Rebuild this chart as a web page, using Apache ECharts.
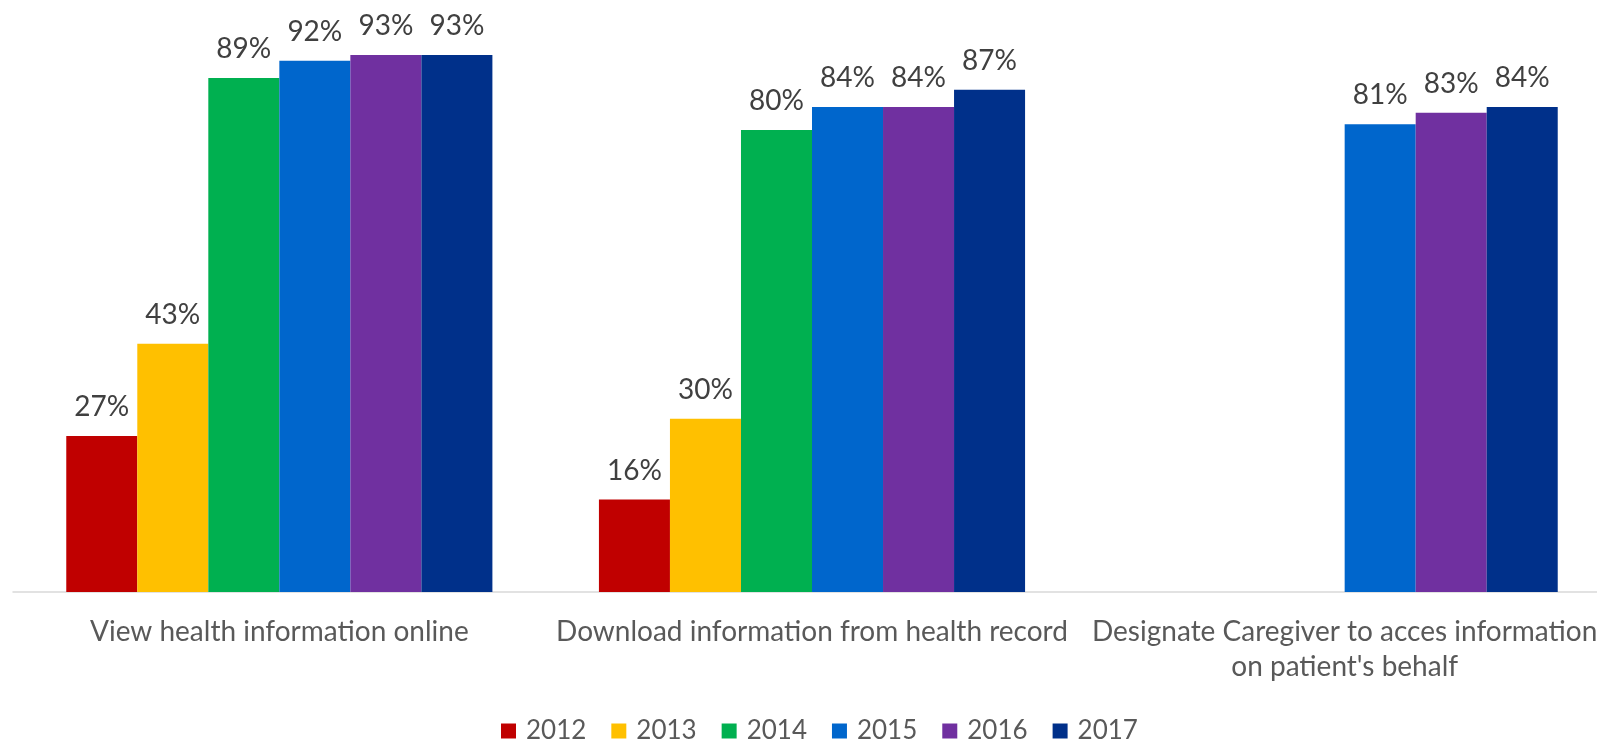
<!DOCTYPE html>
<html>
<head>
<meta charset="utf-8">
<script src="https://cdn.jsdelivr.net/npm/echarts@6/dist/echarts.min.js"></script>
<style>
  html, body { margin: 0; padding: 0; background: #ffffff; }
  #chart { width: 1597px; height: 740px; }
</style>
</head>
<body>
<div id="chart"></div>
<script>
// Patient portal capabilities by year (percent of hospitals)
var categories = [
  'View health information online',
  'Download information from health record',
  "Designate Caregiver to acces information\non patient's behalf"
];
var years = ['2012', '2013', '2014', '2015', '2016', '2017'];
var v2012 = [27, 16, null];
var v2013 = [43, 30, null];
var v2014 = [89, 80, null];
var v2015 = [92, 84, 81];
var v2016 = [93, 84, 83];
var v2017 = [93, 87, 84];
var colors = ['#C00000', '#FFC000', '#00B050', '#0066CC', '#7030A0', '#00308A'];

var seriesValues = [v2012, v2013, v2014, v2015, v2016, v2017];
var FONT = 'Lato, "Open Sans", sans-serif';

var series = years.map(function (y, i) {
  return {
    name: y,
    type: 'bar',
    data: seriesValues[i],
    itemStyle: { color: colors[i] },
    barGap: '0%',
    barCategoryGap: '20%',
    label: {
      show: true,
      position: 'top',
      distance: 15,
      formatter: '{c}%',
      color: '#404040',
      fontFamily: FONT,
      fontSize: 28
    }
  };
});

var chart = echarts.init(document.getElementById('chart'));
chart.setOption({
  animation: false,
  backgroundColor: '#ffffff',
  grid: {
    left: 13, width: 1598, top: 14.6, height: 577.4,
    containLabel: false, outerBoundsMode: 'none'
  },
  legend: {
    data: years,
    left: 496,
    top: 713,
    itemWidth: 15,
    itemHeight: 15,
    itemGap: 25,
    icon: 'rect',
    textStyle: { color: '#595959', fontFamily: FONT, fontSize: 26, padding: [0, 0, 0, 5] }
  },
  xAxis: {
    type: 'category',
    data: categories,
    axisLine: { lineStyle: { color: '#D9D9D9', width: 1.5 } },
    axisTick: { show: false },
    axisLabel: {
      interval: 0,
      margin: 22,
      color: '#595959',
      fontFamily: FONT,
      fontSize: 28,
      lineHeight: 35
    }
  },
  yAxis: {
    type: 'value',
    min: 0,
    max: 100,
    show: false,
    splitLine: { show: false }
  },
  series: series
});
</script>
</body>
</html>
